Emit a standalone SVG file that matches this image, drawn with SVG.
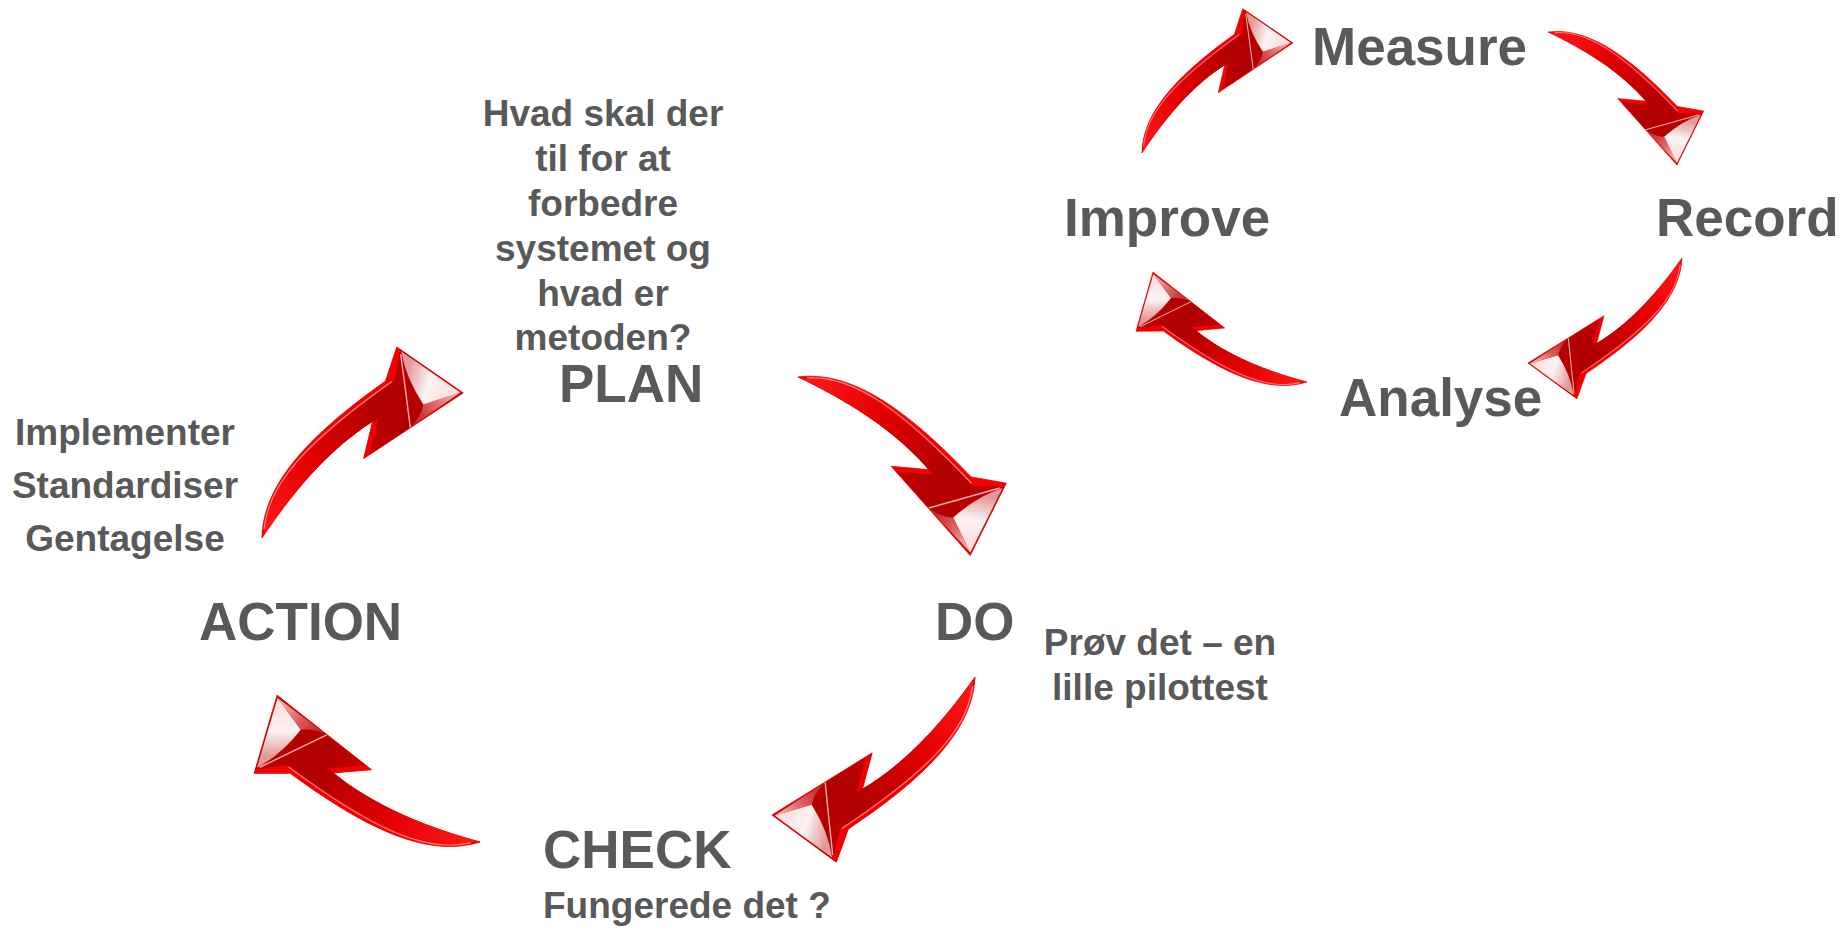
<svg xmlns="http://www.w3.org/2000/svg" xmlns:xlink="http://www.w3.org/1999/xlink" width="1848" height="931" viewBox="0 0 1848 931">
  <style>
    .lbl { font-family: "Liberation Sans", Arial, sans-serif; font-weight: bold; fill: #595959; }
    .big { font-size: 53px; }
    .small { font-size: 37px; }
    .mid { text-anchor: middle; }
  </style>
  <defs>
    <!-- curved glossy arrow, drawn in a local frame: tail at (0,0), tip at (248,0) -->
    <linearGradient id="shaftFill" gradientUnits="userSpaceOnUse" x1="0" y1="0" x2="230" y2="-40">
      <stop offset="0" stop-color="#ff1a1a"/>
      <stop offset="0.4" stop-color="#e00000"/>
      <stop offset="0.75" stop-color="#b00000"/>
      <stop offset="1" stop-color="#bc0000"/>
    </linearGradient>
    <linearGradient id="glossFill" gradientUnits="userSpaceOnUse" x1="214" y1="-50" x2="246" y2="-6">
      <stop offset="0" stop-color="#ffffff" stop-opacity="0.6"/>
      <stop offset="0.45" stop-color="#ffffff" stop-opacity="0.95"/>
      <stop offset="1" stop-color="#ffe8e8" stop-opacity="0.95"/>
    </linearGradient>
    <linearGradient id="lowGloss" gradientUnits="userSpaceOnUse" x1="188" y1="-4" x2="246" y2="-2">
      <stop offset="0" stop-color="#d84a4a" stop-opacity="0.45"/>
      <stop offset="1" stop-color="#ffd6d6" stop-opacity="0.95"/>
    </linearGradient>
    <g id="arrow">
      <!-- extruded side -->
      <path d="M0,0 C30,-40 90,-56 192,-55 L221,-76 L248,0 L129,-5 L158,-30 C105,-34 45,-17 0,0 Z" fill="#f50000" stroke="#dc0000" stroke-width="0.8" stroke-linejoin="round"/>
      <!-- front face -->
      <path d="M3,-1 C33,-37 92,-51 199,-50 L222.5,-72 L247,-1 L136,-5 L164,-29 C106,-34 46,-17 3,-1 Z" fill="url(#shaftFill)"/>
      <!-- shine along the outer edge of the shaft -->
      <path d="M7,-6 C37,-41 95,-52 197,-51" fill="none" stroke="#ff8a8a" stroke-width="1.4" stroke-opacity="0.85"/>
      <!-- glossy head -->
      <path d="M222,-70 L246,-2 L209,-14 Q210,-45 222,-70 Z" fill="url(#glossFill)"/>
      <path d="M209,-14 L246,-2 L186,-3 Q201,-6 209,-14 Z" fill="url(#lowGloss)"/>
      <path d="M220,-68 Q203,-36 185,-3" fill="none" stroke="#ffbcbc" stroke-width="1.4" stroke-opacity="0.9"/>
    </g>
  </defs>

  <rect width="1848" height="931" fill="#ffffff"/>

  <g id="connectors">
    <use xlink:href="#arrow" transform="translate(262,538) rotate(-35.8)"/>
    <use xlink:href="#arrow" transform="translate(798,377) rotate(46)"/>
    <use xlink:href="#arrow" transform="translate(975,677) rotate(145.8) scale(0.99)"/>
    <use xlink:href="#arrow" transform="translate(480,842) rotate(215.9) scale(1.01)"/>
    <use xlink:href="#arrow" transform="translate(1142,153) rotate(-36.1) scale(0.753)"/>
    <use xlink:href="#arrow" transform="translate(1548,32) rotate(45.9) scale(0.747)"/>
    <use xlink:href="#arrow" transform="translate(1682,258) rotate(145.7) scale(0.752)"/>
    <use xlink:href="#arrow" transform="translate(1307,382) rotate(215.5) scale(0.763)"/>
  </g>

  <g id="plan">
    <text class="lbl small mid" x="603" y="126">Hvad skal der</text>
    <text class="lbl small mid" x="603" y="171">til for at</text>
    <text class="lbl small mid" x="603" y="216">forbedre</text>
    <text class="lbl small mid" x="603" y="261">systemet og</text>
    <text class="lbl small mid" x="603" y="306">hvad er</text>
    <text class="lbl small mid" x="603" y="350">metoden?</text>
    <text class="lbl big" x="559" y="402">PLAN</text>
  </g>

  <g id="do">
    <text class="lbl big" x="935" y="640">DO</text>
    <text class="lbl small mid" x="1160" y="655">Prøv det – en</text>
    <text class="lbl small mid" x="1160" y="700">lille pilottest</text>
  </g>

  <g id="check">
    <text class="lbl big" x="543" y="868">CHECK</text>
    <text class="lbl small" x="543" y="918">Fungerede det ?</text>
  </g>

  <g id="action">
    <text class="lbl small mid" x="125" y="445">Implementer</text>
    <text class="lbl small mid" x="125" y="498">Standardiser</text>
    <text class="lbl small mid" x="125" y="551">Gentagelse</text>
    <text class="lbl big" x="199" y="640">ACTION</text>
  </g>

  <g id="measure">
    <text class="lbl big" x="1312" y="65">Measure</text>
  </g>
  <g id="record">
    <text class="lbl big" x="1656" y="236">Record</text>
  </g>
  <g id="analyse">
    <text class="lbl big" x="1339" y="416">Analyse</text>
  </g>
  <g id="improve">
    <text class="lbl big" x="1064" y="236">Improve</text>
  </g>
</svg>
